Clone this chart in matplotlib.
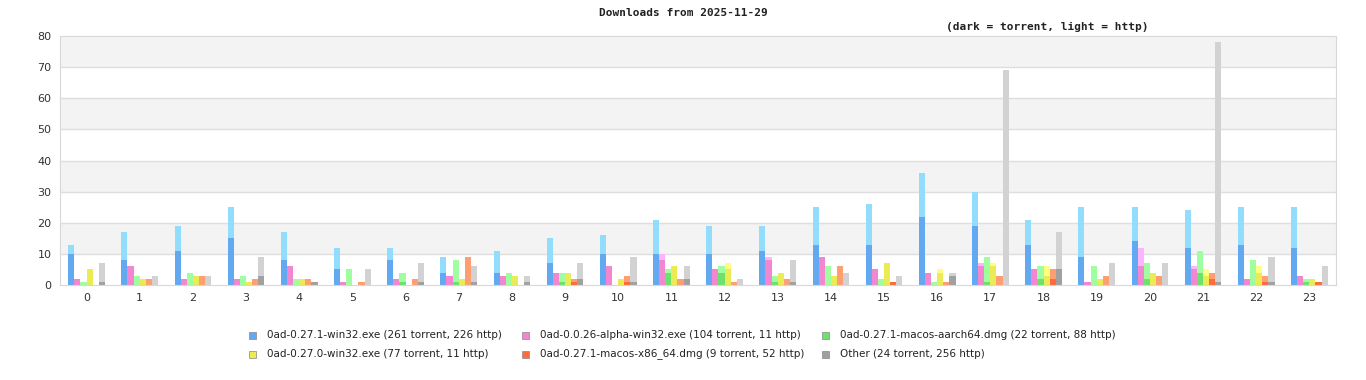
import matplotlib.pyplot as plt
from matplotlib.patches import Rectangle
import numpy as np

# horas del dia
horas = list(range(24))

# descargas por hora: torrent (oscuro) y http (claro)
win32_torrent = [10, 8, 11, 15, 8, 5, 8, 4, 4, 7, 10, 10, 10, 11, 13, 13, 22, 19, 13, 9, 14, 12, 13, 12]
win32_http = [3, 9, 8, 10, 9, 7, 4, 5, 7, 8, 6, 11, 9, 8, 12, 13, 14, 11, 8, 16, 11, 12, 12, 13]

alpha_torrent = [2, 6, 2, 2, 6, 1, 2, 3, 3, 4, 6, 8, 5, 8, 9, 5, 4, 6, 5, 1, 6, 5, 2, 3]
alpha_http = [0, 0, 0, 0, 0, 0, 0, 0, 0, 0, 0, 2, 0, 1, 0, 0, 0, 1, 0, 0, 6, 1, 0, 0]

aarch64_torrent = [0, 0, 0, 0, 0, 0, 1, 1, 0, 1, 0, 4, 4, 1, 0, 0, 0, 1, 2, 0, 2, 4, 0, 1]
aarch64_http = [1, 3, 4, 3, 2, 5, 3, 7, 4, 3, 0, 1, 2, 2, 6, 2, 1, 8, 4, 6, 5, 7, 8, 1]

win32_0270_torrent = [5, 2, 3, 1, 2, 0, 0, 2, 3, 4, 2, 6, 5, 4, 3, 7, 4, 6, 3, 2, 4, 3, 4, 2]
win32_0270_http = [0, 0, 0, 0, 0, 0, 0, 0, 0, 0, 0, 0, 2, 0, 0, 0, 1, 1, 3, 0, 0, 2, 2, 0]

x86_torrent = [0, 0, 0, 0, 0, 0, 0, 0, 0, 1, 1, 0, 0, 0, 0, 1, 0, 0, 2, 0, 0, 2, 1, 1]
x86_http = [0, 2, 3, 2, 2, 1, 2, 9, 0, 1, 2, 2, 1, 2, 6, 0, 1, 3, 3, 3, 3, 2, 2, 0]

otros_torrent = [1, 0, 0, 3, 1, 0, 1, 1, 1, 2, 1, 2, 0, 1, 0, 0, 3, 0, 5, 0, 0, 1, 1, 0]
otros_http = [6, 3, 3, 6, 0, 5, 6, 5, 2, 5, 8, 4, 2, 7, 4, 3, 1, 69, 12, 7, 7, 77, 8, 6]

nombres = ["0ad-0.27.1-win32.exe (261 torrent, 226 http)",
           "0ad-0.0.26-alpha-win32.exe (104 torrent, 11 http)",
           "0ad-0.27.1-macos-aarch64.dmg (22 torrent, 88 http)",
           "0ad-0.27.0-win32.exe (77 torrent, 11 http)",
           "0ad-0.27.1-macos-x86_64.dmg (9 torrent, 52 http)",
           "Other (24 torrent, 256 http)"]

series = [(win32_torrent, win32_http), (alpha_torrent, alpha_http),
          (aarch64_torrent, aarch64_http), (win32_0270_torrent, win32_0270_http),
          (x86_torrent, x86_http), (otros_torrent, otros_http)]

oscuros = ["#62a9f2", "#f286d0", "#6ce26c", "#ebeb55", "#ff6b3b", "#a0a0a0"]
claros = ["#92dcfe", "#fcb4fc", "#9ffe9f", "#fefe80", "#ff9e70", "#d2d2d2"]

fig = plt.figure(figsize=(13.66, 3.8), dpi=100)
ax = fig.add_axes([0.0439, 0.25, 0.9341, 0.655])

# bandas grises alternadas
for y0 in range(10, 80, 20):
    ax.axhspan(y0, y0 + 10, color="#f3f3f3", zorder=0, lw=0)
for y in range(10, 80, 10):
    ax.axhline(y, color="#dedede", lw=1, zorder=1)

ancho = 0.115
x = np.array(horas)
for j, (tor, htp) in enumerate(series):
    pos = x + (j - 2.5) * ancho
    tor = np.array(tor)
    htp = np.array(htp)
    ax.bar(pos, htp, ancho, bottom=tor, color=claros[j], zorder=2, lw=0)
    ax.bar(pos, tor, ancho, color=oscuros[j], zorder=2, lw=0)

ax.set_xlim(-0.5, 23.5)
ax.set_ylim(0, 80)
ax.set_xticks(x)
ax.set_xticklabels([str(h) for h in horas])
ax.set_yticks(range(0, 81, 10))
ax.tick_params(length=0, labelsize=8, colors="#333333", pad=6)
for s in ax.spines.values():
    s.set_color("#d8d8d8")

fig.text(0.5, 0.965, "Downloads from 2025-11-29", ha="center", va="center",
         family="DejaVu Sans Mono", fontsize=8, weight="bold", color="#222222")
fig.text(0.767, 0.93, "(dark = torrent, light = http)", ha="center", va="center",
         family="DejaVu Sans Mono", fontsize=8, weight="bold", color="#222222")

# leyenda a mano
col_x = [249, 522, 822]
fila_y = [335, 354]
for k, nombre in enumerate(nombres):
    cx = col_x[k % 3]
    cy = fila_y[k // 3]
    fig.patches.append(Rectangle(((cx) / 1366, (380 - cy - 3.5) / 380), 7 / 1366, 7 / 380,
                                 transform=fig.transFigure, facecolor=oscuros[k],
                                 edgecolor="#888888", lw=0.5))
    fig.text((cx + 18) / 1366, (380 - cy) / 380, nombre, ha="left", va="center",
             fontsize=7.5, color="#222222")

plt.savefig("out.png", dpi=100)
